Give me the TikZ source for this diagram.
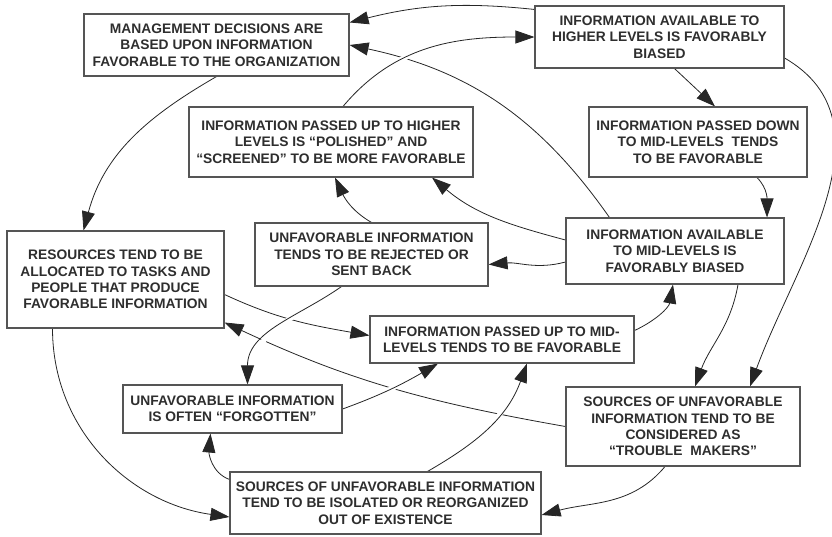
\documentclass[tikz,border=0pt]{standalone}
\usepackage{fontspec}
\setmainfont{Liberation Sans}
\usetikzlibrary{arrows.meta}
\definecolor{txtgray}{HTML}{2E2E2E}
\definecolor{boxgray}{HTML}{555555}
\definecolor{linegray}{HTML}{262626}
\pgfdeclarelayer{links}
\pgfsetlayers{links,main}

\begin{document}
\begin{tikzpicture}[x=1pt,y=-1pt,>={Triangle[length=19pt,width=13pt]},
   effect/.style={draw=boxgray,fill=white,line width=1.1pt,align=center,inner sep=2pt,
     font=\bfseries\fontsize{13.8}{16.3}\selectfont,text=txtgray},
   link/.style={line width=0.8pt,color=linegray,->},
   halo/.style={preaction={draw=white,line width=5pt,-}}]
   \useasboundingbox (0,0) rectangle (832,536);
   \node[effect,minimum width=265pt,minimum height=62pt] (mgmt) at (216.5,45)
     {MANAGEMENT DECISIONS ARE\\BASED UPON INFORMATION\\FAVORABLE TO THE ORGANIZATION};
   \node[effect,minimum width=249pt,minimum height=62pt] (hiavail) at (659.5,37)
     {INFORMATION AVAILABLE TO\\HIGHER LEVELS IS FAVORABLY\\BIASED};
   \node[effect,minimum width=284pt,minimum height=70pt] (hipass) at (331,142)
     {INFORMATION PASSED UP TO HIGHER\\LEVELS IS “POLISHED” AND\\“SCREENED” TO BE MORE FAVORABLE};
   \node[effect,minimum width=218pt,minimum height=70pt] (downpass) at (698,142)
     {INFORMATION PASSED DOWN\\TO MID-LEVELS~~TENDS\\TO BE FAVORABLE};
   \node[effect,minimum width=217pt,minimum height=97pt] (resources) at (115.5,279.5)
     {RESOURCES TEND TO BE\\ALLOCATED TO TASKS AND\\PEOPLE THAT PRODUCE\\FAVORABLE INFORMATION};
   \node[effect,minimum width=233pt,minimum height=63pt] (rejected) at (371.5,254.5)
     {UNFAVORABLE INFORMATION\\TENDS TO BE REJECTED OR\\SENT BACK};
   \node[effect,minimum width=218pt,minimum height=66pt] (midavail) at (675,251)
     {INFORMATION AVAILABLE\\TO MID-LEVELS IS\\FAVORABLY BIASED};
   \node[effect,minimum width=264pt,minimum height=47pt] (midpass) at (502,339.5)
     {INFORMATION PASSED UP TO MID-\\LEVELS TENDS TO BE FAVORABLE};
   \node[effect,minimum width=219pt,minimum height=48pt] (forgotten) at (232.5,409)
     {UNFAVORABLE INFORMATION\\IS OFTEN “FORGOTTEN”};
   \node[effect,minimum width=311pt,minimum height=62pt] (isolated) at (385.5,503)
     {SOURCES OF UNFAVORABLE INFORMATION\\TEND TO BE ISOLATED OR REORGANIZED\\OUT OF EXISTENCE};
   \node[effect,minimum width=234pt,minimum height=79pt] (trouble) at (683,426.5)
     {SOURCES OF UNFAVORABLE\\INFORMATION TEND TO BE\\CONSIDERED AS\\“TROUBLE~~MAKERS”};
   \begin{pgfonlayer}{links}
   % lines that are crossed by others go first
   \path[link]
    (trouble.west) edge[out=170,in=-25] ([yshift=-43pt]resources.east)
    ([yshift=-15pt]resources.east) edge[out=-25,in=170] ([yshift=4pt]midpass.west)
    ([xshift=44pt]midavail.north west) edge[out=125,in=-12] (mgmt.east)
    ([yshift=-4pt]hiavail.north west) edge[bend right=10] ([yshift=-9pt]mgmt.north east)
    ([xshift=12pt]hipass.north) edge[halo,out=50,in=180] (hiavail.west)
    ([xshift=15pt]hiavail.south) edge ([xshift=17pt]downpass.north)
    ([yshift=-21pt]hiavail.east) edge[out=-30,in=70] ([xshift=67pt]trouble.north)
    ([xshift=59pt]downpass.south) edge[out=-45,in=90] ([xshift=92pt]midavail.north)
    ([yshift=11pt]midavail.west) edge[out=165,in=-40] ([xshift=101pt]hipass.south)
    ([yshift=-11pt]midavail.west) edge[out=195,in=5] ([yshift=-10pt]rejected.east)
    (rejected.north) edge[out=150,in=-65] ([xshift=4pt]hipass.south)
    ([xshift=-30pt]rejected.south) edge[halo,out=215,in=90] ([xshift=15pt]forgotten.north)
    (forgotten.east) edge[halo,out=20,in=-150] ([xshift=-64pt]midpass.south)
    ([xshift=42pt]isolated.north) edge[halo,out=30,in=-110] ([xshift=25pt]midpass.south)
    ([yshift=-8pt]isolated.north west) edge[out=160,in=-95] ([xshift=-22pt]forgotten.south)
    ([yshift=9pt]midpass.east) edge[out=25,in=-100] ([xshift=-2pt]midavail.south)
    ([xshift=63pt]midavail.south) edge[out=-100,in=70] ([xshift=12pt]trouble.north)
    ([xshift=-18pt]trouble.south) edge[out=230,in=15] ([yshift=-12pt]isolated.east)
    ([xshift=-63pt]resources.south) edge[out=-90,in=172] ([yshift=-14pt]isolated.west)
    (mgmt.south) edge[out=210,in=75] ([xshift=-32pt]resources.north);
   \end{pgfonlayer}
\end{tikzpicture}
\end{document}
